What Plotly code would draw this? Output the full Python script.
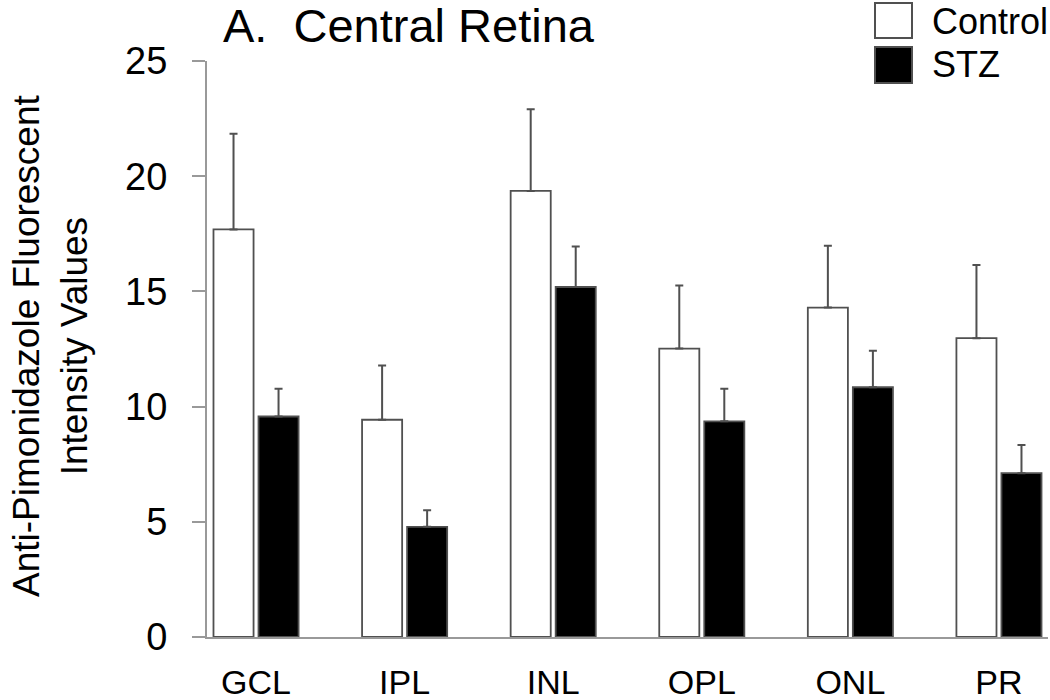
import plotly.graph_objects as go

categories = ["GCL", "IPL", "INL", "OPL", "ONL", "PR"]
control_values = [17.69, 9.43, 19.36, 12.52, 14.30, 12.97]
control_errors = [4.15, 2.35, 3.55, 2.74, 2.68, 3.18]
stz_values = [9.57, 4.78, 15.19, 9.36, 10.84, 7.11]
stz_errors = [1.21, 0.72, 1.76, 1.42, 1.58, 1.22]
y_ticks = [0, 5, 10, 15, 20, 25]

FONT = "Liberation Sans, Arial, sans-serif"
OUTLINE = "#505050"
AXIS = "#999999"

fig = go.Figure()
fig.add_trace(go.Bar(
    name="Control", x=list(range(len(categories))), y=control_values,
    marker=dict(color="white", line=dict(color=OUTLINE, width=1.8)),
    error_y=dict(type="data", array=control_errors, arrayminus=[0]*6, symmetric=False,
                 color=OUTLINE, thickness=2, width=4),
))
fig.add_trace(go.Bar(
    name="STZ", x=list(range(len(categories))), y=stz_values,
    marker=dict(color="black", line=dict(color=OUTLINE, width=1.8)),
    error_y=dict(type="data", array=stz_errors, arrayminus=[0]*6, symmetric=False,
                 color=OUTLINE, thickness=2, width=4),
))

W, H = 1050, 700
L, R, T, B = 207, 2, 61, 63
pw, ph = W - L - R, H - T - B

def px(x):
    return (x - L) / pw

def py(y):
    return (H - B - y) / ph

shapes = [
    dict(type="rect", xref="paper", yref="paper", x0=px(875), x1=px(912), y0=py(38), y1=py(3),
         fillcolor="white", line=dict(color=OUTLINE, width=2)),
    dict(type="rect", xref="paper", yref="paper", x0=px(875), x1=px(912), y0=py(83), y1=py(47),
         fillcolor="black", line=dict(color=OUTLINE, width=2)),
]
annotations = [
    dict(text="A.&nbsp; Central Retina", xref="paper", yref="paper", x=px(221), y=py(25),
         xanchor="left", yanchor="middle", showarrow=False, font=dict(family=FONT, size=47, color="black")),
    dict(text="Control", xref="paper", yref="paper", x=px(930), y=py(21),
         xanchor="left", yanchor="middle", showarrow=False, font=dict(family=FONT, size=36, color="black")),
    dict(text="STZ", xref="paper", yref="paper", x=px(930), y=py(65),
         xanchor="left", yanchor="middle", showarrow=False, font=dict(family=FONT, size=36, color="black")),
    dict(text="Anti-Pimonidazole Fluorescent<br>Intensity Values", xref="paper", yref="paper",
         x=px(50), y=py(346), xanchor="center", yanchor="middle", textangle=-90, showarrow=False,
         font=dict(family=FONT, size=37, color="black")),
]

fig.update_layout(
    template="none",
    width=W, height=H,
    margin=dict(l=L, r=R, t=T, b=B, pad=0),
    paper_bgcolor="white", plot_bgcolor="white",
    barmode="group", bargap=0.394, bargroupgap=0.11,
    showlegend=False,
    shapes=shapes, annotations=annotations,
    font=dict(family=FONT, color="black"),
)
fig.update_xaxes(
    automargin=False,
    range=[-0.33, 5.33], tickmode="array", tickvals=list(range(len(categories))), ticktext=categories,
    showline=True, linecolor=AXIS, linewidth=2, ticks="", showgrid=False, zeroline=False,
    tickfont=dict(family=FONT, size=34, color="black"), ticklabelstandoff=14,
)
fig.update_yaxes(
    automargin=False,
    range=[0, 25], tickmode="array", tickvals=y_ticks,
    showline=True, linecolor=AXIS, linewidth=2, ticks="outside", ticklen=13, tickwidth=2,
    tickcolor=AXIS, showgrid=False, zeroline=False,
    tickfont=dict(family=FONT, size=38, color="black"), ticklabelstandoff=17,
)

fig.write_html(
    "out.html",
    config={"displayModeBar": False},
    post_script="document.body.style.margin='0';document.body.style.overflow='hidden';",
)
